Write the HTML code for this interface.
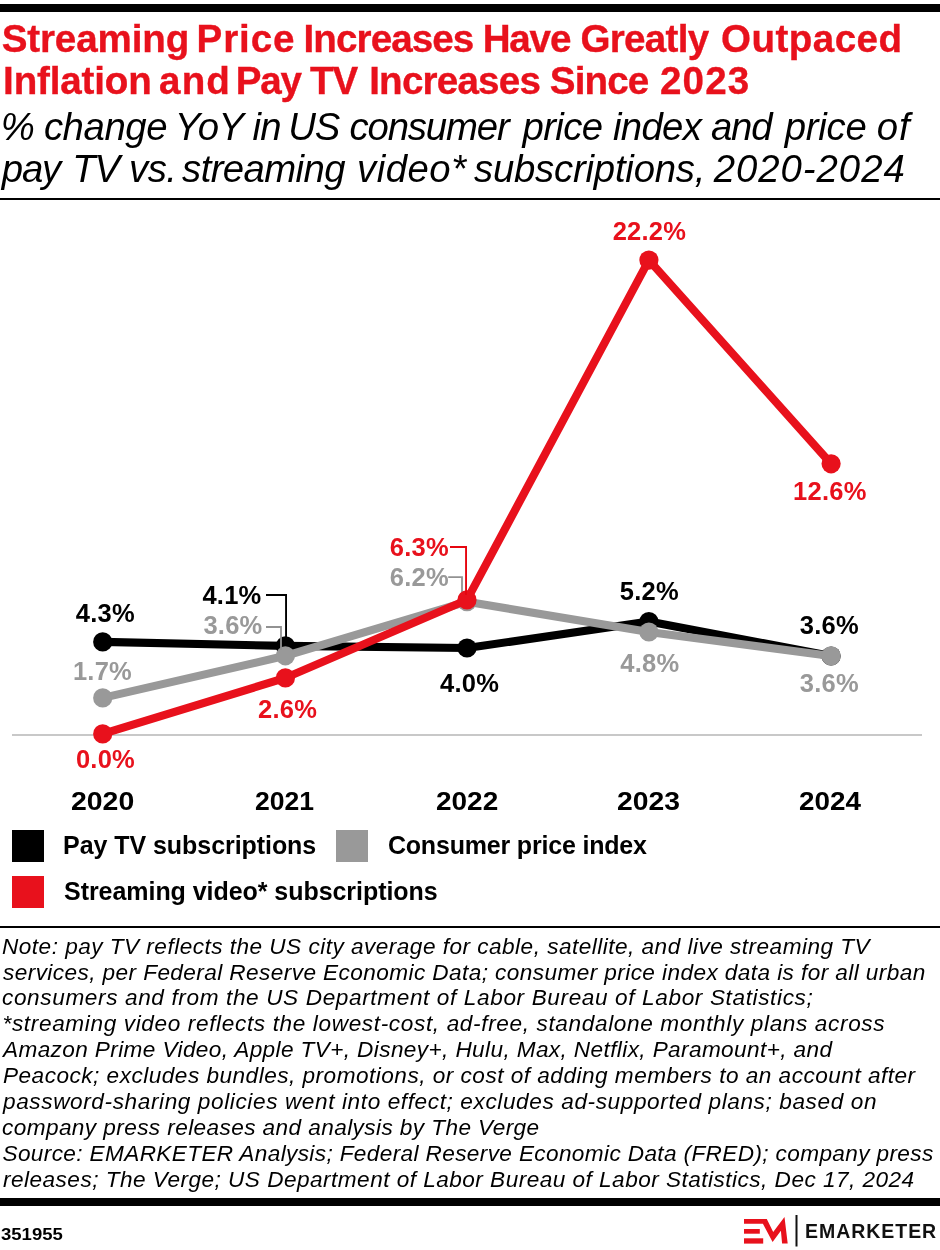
<!DOCTYPE html>
<html lang="en"><head><meta charset="utf-8">
<title>Streaming Price Increases Have Greatly Outpaced Inflation and Pay TV Increases Since 2023</title>
<style>
html,body{margin:0;padding:0;background:#fff;}
body{width:940px;height:1250px;position:relative;overflow:hidden;font-family:"Liberation Sans",Arial,Helvetica,sans-serif;color:#000;}
.t{position:absolute;white-space:nowrap;margin:0;padding:0;}
.w{position:absolute;top:0;}
.yr,.id{transform-origin:0 50%;}
.title{font-weight:bold;color:#e8111c;-webkit-text-stroke:0.35px #e8111c;}
.sub,.note{font-style:italic;}
.leg,.id,.brand,.lab,.yr{font-weight:bold;}
.bar{position:absolute;left:0;width:940px;background:#000;}
.sw{position:absolute;width:32px;height:32px;}
svg{position:absolute;left:0;top:0;}
</style></head><body>

<header>
<div class="bar" style="top:4px;height:8px"></div>
<div id="t0" class="t title" style="left:0;top:20px;width:940px;height:38.6px;font-size:38.6px;line-height:38.6px;"><span class="w" style="left:1.70px;letter-spacing:-0.137px">Streaming</span> <span class="w" style="left:196.50px;letter-spacing:0.925px">Price</span> <span class="w" style="left:303.50px;letter-spacing:-0.900px">Increases</span> <span class="w" style="left:482.64px;letter-spacing:-1.158px">Have</span> <span class="w" style="left:580.40px;letter-spacing:-0.700px">Greatly</span> <span class="w" style="left:721.10px;letter-spacing:0.429px">Outpaced</span></div>
<div id="t1" class="t title" style="left:0;top:62px;width:940px;height:38.6px;font-size:38.6px;line-height:38.6px;"><span class="w" style="left:3.10px;letter-spacing:-0.162px">Inflation</span> <span class="w" style="left:159.04px;letter-spacing:1.158px">and</span> <span class="w" style="left:235.71px;letter-spacing:-1.158px">Pay</span> <span class="w" style="left:310.08px;letter-spacing:-1.158px">TV</span> <span class="w" style="left:369.20px;letter-spacing:-0.788px">Increases</span> <span class="w" style="left:549.80px;letter-spacing:-0.875px">Since</span> <span class="w" style="left:659.96px;letter-spacing:1.158px">2023</span></div>
<div id="t2" class="t sub" style="left:0;top:108px;width:940px;height:38.3px;font-size:38.3px;line-height:38.3px;"><span class="w" style="left:0.70px;letter-spacing:0.000px">%</span> <span class="w" style="left:43.90px;letter-spacing:-0.420px">change</span> <span class="w" style="left:174.70px;letter-spacing:-0.450px">YoY</span> <span class="w" style="left:252.60px;letter-spacing:-0.800px">in</span> <span class="w" style="left:288.17px;letter-spacing:-1.149px">US</span> <span class="w" style="left:349.50px;letter-spacing:-1.143px">consumer</span> <span class="w" style="left:522.50px;letter-spacing:-0.600px">price</span> <span class="w" style="left:613.00px;letter-spacing:-0.675px">index</span> <span class="w" style="left:710.90px;letter-spacing:-1.149px">and</span> <span class="w" style="left:784.80px;letter-spacing:-0.250px">price</span> <span class="w" style="left:876.68px;letter-spacing:1.149px">of</span></div>
<div id="t3" class="t sub" style="left:0;top:150px;width:940px;height:38.3px;font-size:38.3px;line-height:38.3px;"><span class="w" style="left:1.80px;letter-spacing:-1.149px">pay</span> <span class="w" style="left:72.17px;letter-spacing:-1.149px">TV</span> <span class="w" style="left:129.00px;letter-spacing:-0.500px">vs.</span> <span class="w" style="left:182.10px;letter-spacing:-0.588px">streaming</span> <span class="w" style="left:357.00px;letter-spacing:0.520px">video*</span> <span class="w" style="left:474.00px;letter-spacing:-0.208px">subscriptions,</span> <span class="w" style="left:713.70px;letter-spacing:0.987px">2020-2024</span></div>
<div class="bar" style="top:198px;height:2px"></div>
</header>
<main>
<section class="chart">
<svg style="top:200px" width="940" height="620" viewBox="0 200 940 620" role="img" aria-label="Line chart of year-over-year price change, 2020-2024">
<rect x="12" y="734" width="910" height="2" fill="#c8c8c8"/>
<polyline points="266,595 286.05,595 286.05,640" fill="none" stroke="#000000" stroke-width="1.9"/>
<polyline points="102.7,641.9 285.4,645.9 467.0,648.0 648.9,621.6 831.1,656.0" fill="none" stroke="#000000" stroke-width="8.1" stroke-linejoin="round" stroke-linecap="round"/>
<circle cx="102.7" cy="641.9" r="9.6" fill="#000000"/>
<circle cx="285.4" cy="645.9" r="9.6" fill="#000000"/>
<circle cx="467.0" cy="648.0" r="9.6" fill="#000000"/>
<circle cx="648.9" cy="621.6" r="9.6" fill="#000000"/>
<circle cx="831.1" cy="656.0" r="9.6" fill="#000000"/>
<polyline points="102.7,697.9 285.4,655.8 467.0,601.7 648.9,632.0 831.1,655.9" fill="none" stroke="#999999" stroke-width="8.1" stroke-linejoin="round" stroke-linecap="round"/>
<circle cx="102.7" cy="697.9" r="9.6" fill="#999999"/>
<circle cx="285.4" cy="655.8" r="9.6" fill="#999999"/>
<circle cx="467.0" cy="601.7" r="9.6" fill="#999999"/>
<circle cx="648.9" cy="632.0" r="9.6" fill="#999999"/>
<circle cx="831.1" cy="655.9" r="9.6" fill="#999999"/>
<polyline points="266,627 281,627 281,650" fill="none" stroke="#929292" stroke-width="1.8"/>
<polyline points="448.2,577.1 462,577.1 462,596" fill="none" stroke="#929292" stroke-width="1.8"/>
<polyline points="102.7,733.9 285.4,677.9 467.0,599.9 648.9,260.1 831.1,463.8" fill="none" stroke="#e8111c" stroke-width="8.1" stroke-linejoin="round" stroke-linecap="round"/>
<circle cx="102.7" cy="733.9" r="9.6" fill="#e8111c"/>
<circle cx="285.4" cy="677.9" r="9.6" fill="#e8111c"/>
<circle cx="467.0" cy="599.9" r="9.6" fill="#e8111c"/>
<circle cx="648.9" cy="260.1" r="9.6" fill="#e8111c"/>
<circle cx="831.1" cy="463.8" r="9.6" fill="#e8111c"/>
<polyline points="450,547 466.05,547 466.05,595" fill="none" stroke="#e6050f" stroke-width="1.9"/>
</svg>
<div id="t19" class="t lab" style="left:75.72px;top:601px;font-size:25.5px;line-height:25.5px;letter-spacing:0.250px;">4.3%</div>
<div id="t20" class="t lab" style="left:72.92px;top:659px;font-size:25.5px;line-height:25.5px;letter-spacing:0.250px;color:#999999;">1.7%</div>
<div id="t21" class="t lab" style="left:75.92px;top:747px;font-size:25.5px;line-height:25.5px;letter-spacing:0.250px;color:#e8111c;">0.0%</div>
<div id="t22" class="t lab" style="left:202.42px;top:583px;font-size:25.5px;line-height:25.5px;letter-spacing:0.250px;">4.1%</div>
<div id="t23" class="t lab" style="left:203.38px;top:613px;font-size:25.5px;line-height:25.5px;letter-spacing:0.250px;color:#999999;">3.6%</div>
<div id="t24" class="t lab" style="left:258.02px;top:697px;font-size:25.5px;line-height:25.5px;letter-spacing:0.250px;color:#e8111c;">2.6%</div>
<div id="t25" class="t lab" style="left:389.73px;top:535px;font-size:25.5px;line-height:25.5px;letter-spacing:0.250px;color:#e8111c;">6.3%</div>
<div id="t26" class="t lab" style="left:389.82px;top:565px;font-size:25.5px;line-height:25.5px;letter-spacing:0.250px;color:#999999;">6.2%</div>
<div id="t27" class="t lab" style="left:440.02px;top:671px;font-size:25.5px;line-height:25.5px;letter-spacing:0.250px;">4.0%</div>
<div id="t28" class="t lab" style="left:612.65px;top:219px;font-size:25.5px;line-height:25.5px;letter-spacing:0.250px;color:#e8111c;">22.2%</div>
<div id="t29" class="t lab" style="left:619.73px;top:579px;font-size:25.5px;line-height:25.5px;letter-spacing:0.250px;">5.2%</div>
<div id="t30" class="t lab" style="left:620.23px;top:651px;font-size:25.5px;line-height:25.5px;letter-spacing:0.250px;color:#999999;">4.8%</div>
<div id="t31" class="t lab" style="left:793.05px;top:479px;font-size:25.5px;line-height:25.5px;letter-spacing:0.250px;color:#e8111c;">12.6%</div>
<div id="t32" class="t lab" style="left:799.83px;top:613px;font-size:25.5px;line-height:25.5px;letter-spacing:0.250px;">3.6%</div>
<div id="t33" class="t lab" style="left:799.83px;top:671px;font-size:25.5px;line-height:25.5px;letter-spacing:0.250px;color:#999999;">3.6%</div>
<div id="t34" class="t yr" style="left:71.11px;top:788px;font-size:26px;line-height:26px;letter-spacing:0.000px;transform:scaleX(1.0929);">2020</div>
<div id="t35" class="t yr" style="left:254.78px;top:788px;font-size:26px;line-height:26px;letter-spacing:0.000px;transform:scaleX(1.0214);">2021</div>
<div id="t36" class="t yr" style="left:435.82px;top:788px;font-size:26px;line-height:26px;letter-spacing:0.000px;transform:scaleX(1.075);">2022</div>
<div id="t37" class="t yr" style="left:617.41px;top:788px;font-size:26px;line-height:26px;letter-spacing:0.000px;transform:scaleX(1.0893);">2023</div>
<div id="t38" class="t yr" style="left:799.43px;top:788px;font-size:26px;line-height:26px;letter-spacing:0.000px;transform:scaleX(1.0702);">2024</div>
</section>
<section class="legend">
<div class="sw" style="left:12px;top:830px;background:#000000"></div>
<div class="sw" style="left:336px;top:830px;background:#999999"></div>
<div class="sw" style="left:12px;top:876px;background:#e8111c"></div>
<div id="t14" class="t leg" style="left:63.10px;top:833px;font-size:25px;line-height:25px;letter-spacing:-0.058px;">Pay TV subscriptions</div>
<div id="t15" class="t leg" style="left:387.90px;top:833px;font-size:25px;line-height:25px;letter-spacing:-0.184px;">Consumer price index</div>
<div id="t16" class="t leg" style="left:64.00px;top:879px;font-size:25px;line-height:25px;letter-spacing:-0.048px;">Streaming video* subscriptions</div>
</section>
<section class="notes">
<div class="bar" style="top:926px;height:2px"></div>
<div id="t4" class="t note" style="left:2.00px;top:936px;font-size:22.6px;line-height:22.6px;letter-spacing:0.477px;">Note: pay TV reflects the US city average for cable, satellite, and live streaming TV</div>
<div id="t5" class="t note" style="left:3.00px;top:962px;font-size:22.6px;line-height:22.6px;letter-spacing:0.415px;">services, per Federal Reserve Economic Data; consumer price index data is for all urban</div>
<div id="t6" class="t note" style="left:2.00px;top:987px;font-size:22.6px;line-height:22.6px;letter-spacing:0.621px;">consumers and from the US Department of Labor Bureau of Labor Statistics;</div>
<div id="t7" class="t note" style="left:2.50px;top:1013px;font-size:22.6px;line-height:22.6px;letter-spacing:0.634px;">*streaming video reflects the lowest-cost, ad-free, standalone monthly plans across</div>
<div id="t8" class="t note" style="left:3.00px;top:1039px;font-size:22.6px;line-height:22.6px;letter-spacing:0.384px;">Amazon Prime Video, Apple TV+, Disney+, Hulu, Max, Netflix, Paramount+, and</div>
<div id="t9" class="t note" style="left:3.00px;top:1065px;font-size:22.6px;line-height:22.6px;letter-spacing:0.488px;">Peacock; excludes bundles, promotions, or cost of adding members to an account after</div>
<div id="t10" class="t note" style="left:3.00px;top:1091px;font-size:22.6px;line-height:22.6px;letter-spacing:0.604px;">password-sharing policies went into effect; excludes ad-supported plans; based on</div>
<div id="t11" class="t note" style="left:2.00px;top:1117px;font-size:22.6px;line-height:22.6px;letter-spacing:0.411px;">company press releases and analysis by The Verge</div>
<div id="t12" class="t note" style="left:2.50px;top:1143px;font-size:22.6px;line-height:22.6px;letter-spacing:0.369px;">Source: EMARKETER Analysis; Federal Reserve Economic Data (FRED); company press</div>
<div id="t13" class="t note" style="left:3.00px;top:1169px;font-size:22.6px;line-height:22.6px;letter-spacing:0.472px;">releases; The Verge; US Department of Labor Bureau of Labor Statistics, Dec 17, 2024</div>
</section>
</main>
<footer>
<div class="bar" style="top:1198px;height:8px"></div>
<div id="t17" class="t id" style="left:1.21px;top:1226px;font-size:17px;line-height:17px;letter-spacing:0.000px;transform:scaleX(1.0891);">351955</div>
<svg style="left:740px;top:1210px" width="62" height="40" viewBox="740 1210 62 40" role="img" aria-label="EMARKETER logo mark"><g fill="#e8111c"><polygon points="744,1218.9 766.8,1218.9 773.2,1231.9 784.5,1217.1 787.7,1243.5 782.1,1243.5 780.9,1230.8 772.6,1242.1 762.9,1223.7 744,1223.7"/><rect x="744" y="1229" width="15.8" height="4.7"/><rect x="744" y="1238.3" width="19.2" height="5.3"/></g><rect x="795.5" y="1215" width="2" height="31.5" fill="#111"/></svg>
<div id="t18" class="t brand" style="left:805.00px;top:1222px;font-size:19.5px;line-height:19.5px;letter-spacing:0.963px;color:#111111;">EMARKETER</div>
</footer>
</body></html>
